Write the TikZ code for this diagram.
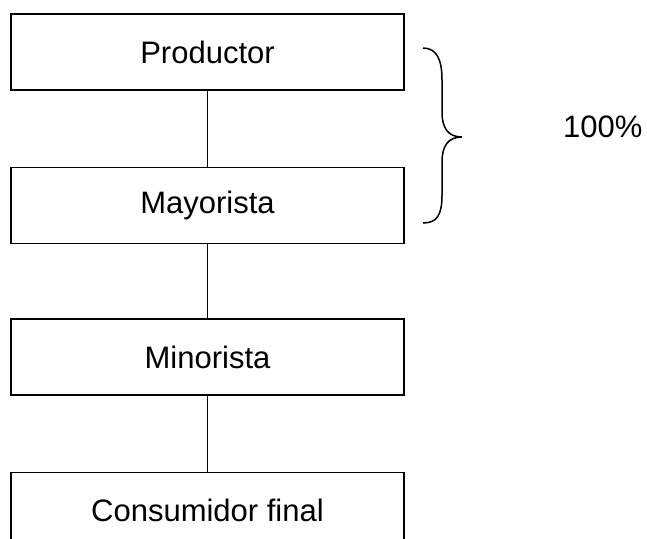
\documentclass[tikz,border=0pt]{standalone}
\usepackage{fontspec}
\setmainfont{Liberation Sans}
\usepackage{tikz}
\usetikzlibrary{positioning}    % relative placement

\tikzset{
    stage/.style={draw, line width=1.5pt, minimum width=393pt, minimum height=76pt,
                  inner sep=0pt, font=\fontsize{31}{36}\selectfont},
    link/.style={line width=1.5pt},
}

\begin{document}
\begin{tikzpicture}[x=1pt, y=-1pt]
    \useasboundingbox (0,0) rectangle (647,538);
    \clip (0,0) rectangle (647,538);

    \node[stage] (prod) at (207.5,52) {Productor};
    \node[stage, below=76pt of prod] (mayor) {Mayorista};
    \node[stage, below=74pt of mayor] (minor) {Minorista};
    \node[stage, below=76pt of minor] (cons) {Consumidor final};

    \draw[link] (prod) -- (mayor);
    \draw[link] (mayor) -- (minor);
    \draw[link] (minor) -- (cons);

    % brace over the first two stages
    \draw[line width=1.5pt] (423,48)
        .. controls (437,48) and (442,60) .. (442,80) -- (442,112)
        .. controls (442,128) and (448,137) .. (462,137)
        .. controls (448,137) and (442,146) .. (442,162) -- (442,195)
        .. controls (442,215) and (437,223) .. (423,223);
    \node[font=\fontsize{31}{36}\selectfont, anchor=west, inner sep=0pt] (pct) at (563,127) {100\%};
\end{tikzpicture}
\end{document}
